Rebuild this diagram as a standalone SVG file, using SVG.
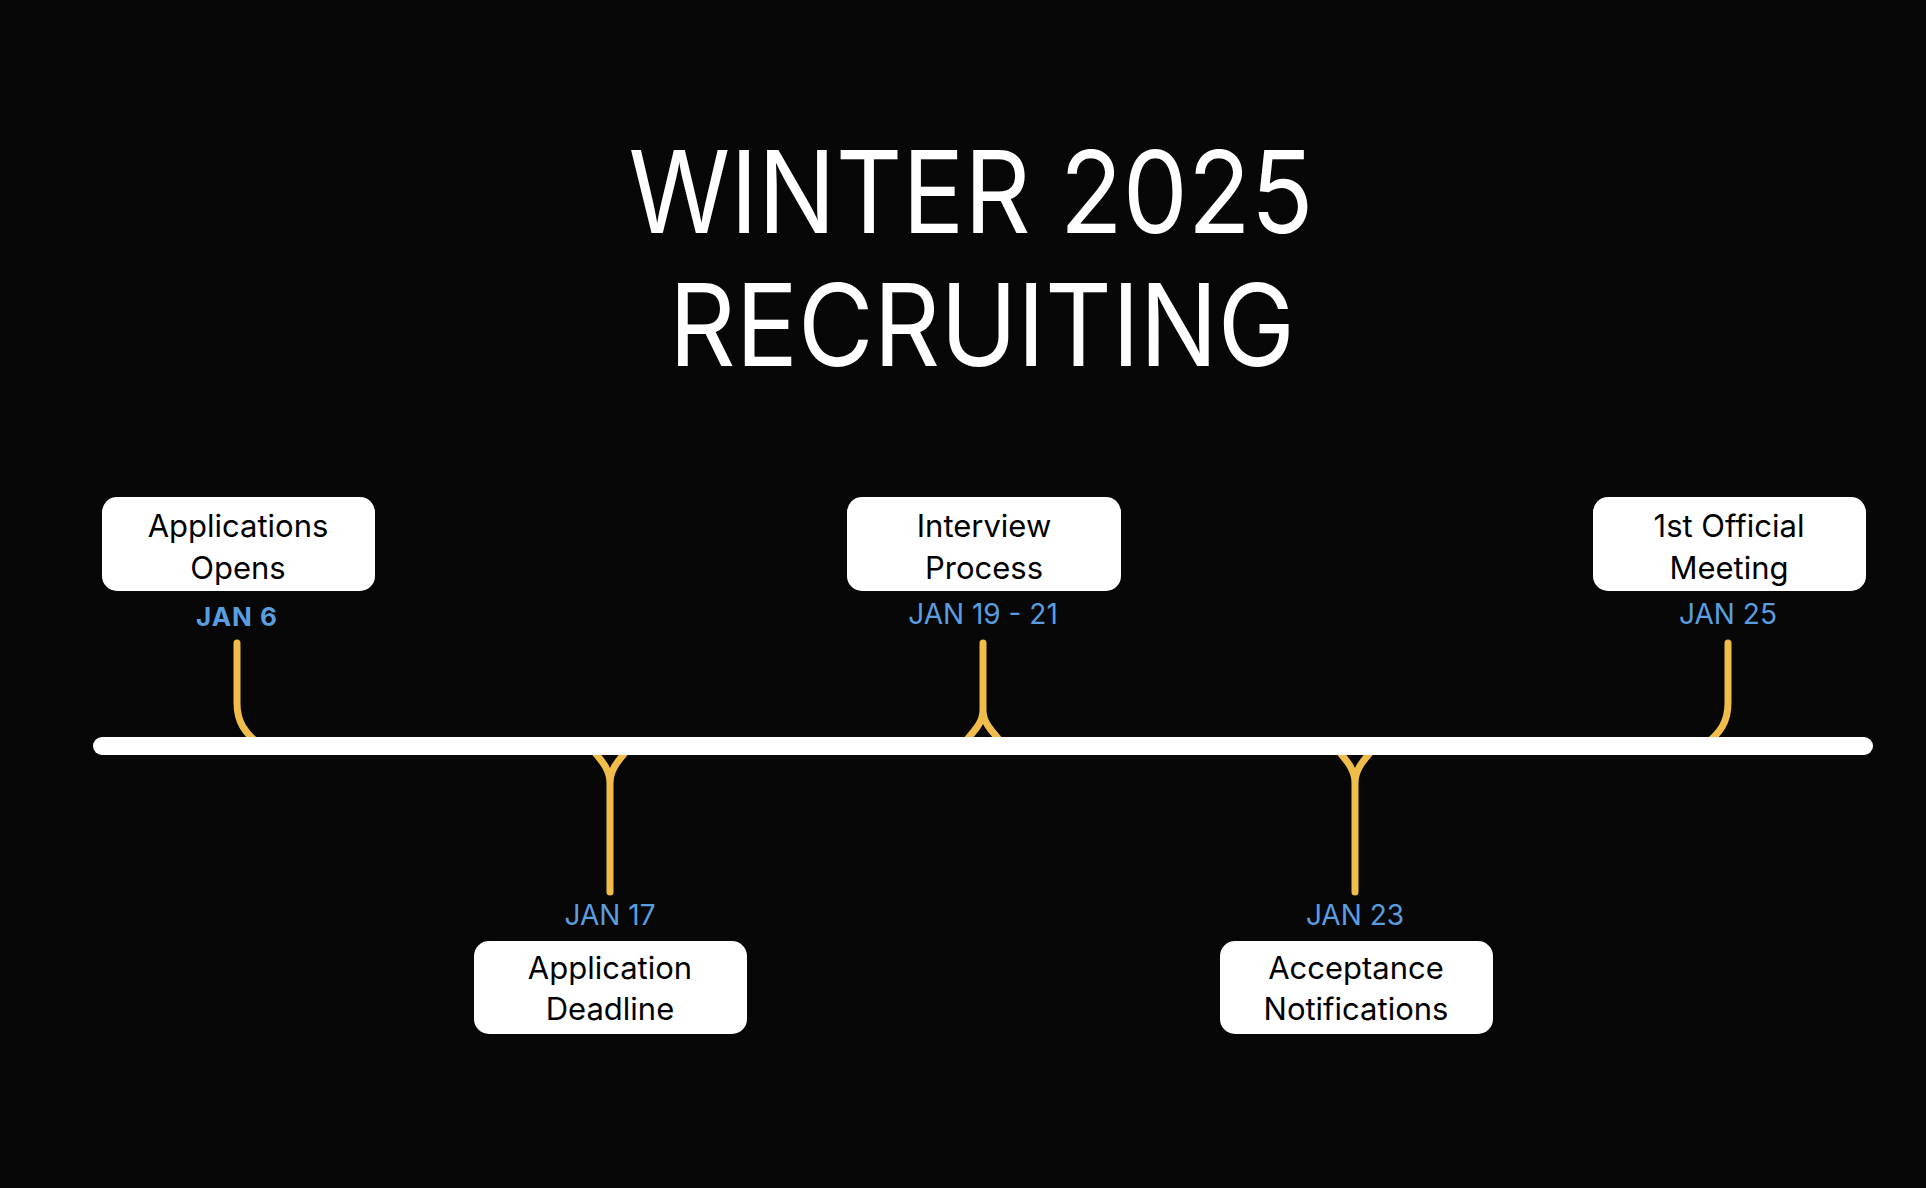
<svg xmlns="http://www.w3.org/2000/svg" width="1926" height="1188" viewBox="0 0 1926 1188">
<defs>
<style>
.bg{fill:#070707}
.title{font-family:Inter,"Liberation Sans",sans-serif;font-size:114px;fill:#ffffff;text-anchor:middle}
.box{fill:#ffffff}
.lbl{font-family:Inter,"Liberation Sans",sans-serif;font-size:31px;fill:#000000;text-anchor:middle}
.date{font-family:Inter,"Liberation Sans",sans-serif;font-size:28px;fill:#5a9ee0;text-anchor:middle}
.bold{font-weight:700;font-size:26px;letter-spacing:1px}
.conn{fill:none;stroke:#f0bd4a;stroke-width:7;stroke-linecap:round;stroke-linejoin:round}
.axis{fill:#ffffff}
</style>
</defs>
<rect class="bg" x="0" y="0" width="1926" height="1188"/>
<g id="title">
<text class="title" x="971" y="233" textLength="685" lengthAdjust="spacingAndGlyphs">WINTER 2025</text>
<text class="title" x="982" y="366" textLength="626" lengthAdjust="spacingAndGlyphs">RECRUITING</text>
</g>
<g id="connectors">
<path class="conn" d="M237,643 V703 C237,722 245,733 259,744"/>
<path class="conn" d="M983,643 V710 C983,724 972,733 963,744 M983,710 C983,724 994,733 1003,744"/>
<path class="conn" d="M1728,643 V703 C1728,722 1720,733 1706,744"/>
<path class="conn" d="M610,892 V783 C610,769 601,760 592,749 M610,783 C610,769 619,760 628,749"/>
<path class="conn" d="M1355,892 V783 C1355,769 1346,760 1337,749 M1355,783 C1355,769 1364,760 1373,749"/>
</g>
<rect class="axis" id="timeline" x="93" y="737" width="1780" height="18" rx="9"/>
<g id="node-applications-opens">
<rect class="box" x="102" y="497" width="273" height="94" rx="15"/>
<text class="lbl" x="238" y="537">Applications</text>
<text class="lbl" x="238" y="579">Opens</text>
<text class="date bold" x="237" y="626">JAN 6</text>
</g>
<g id="node-application-deadline">
<rect class="box" x="474" y="941" width="273" height="93" rx="15"/>
<text class="lbl" x="610" y="979">Application</text>
<text class="lbl" x="610" y="1020">Deadline</text>
<text class="date" x="610" y="925">JAN 17</text>
</g>
<g id="node-interview-process">
<rect class="box" x="847" y="497" width="274" height="94" rx="15"/>
<text class="lbl" x="984" y="537">Interview</text>
<text class="lbl" x="984" y="579">Process</text>
<text class="date" x="983" y="624">JAN 19 - 21</text>
</g>
<g id="node-acceptance-notifications">
<rect class="box" x="1220" y="941" width="273" height="93" rx="15"/>
<text class="lbl" x="1356" y="979">Acceptance</text>
<text class="lbl" x="1356" y="1020">Notifications</text>
<text class="date" x="1355" y="925">JAN 23</text>
</g>
<g id="node-first-official-meeting">
<rect class="box" x="1593" y="497" width="273" height="94" rx="15"/>
<text class="lbl" x="1729" y="537">1st Official</text>
<text class="lbl" x="1729" y="579">Meeting</text>
<text class="date" x="1728" y="624">JAN 25</text>
</g>
</svg>
